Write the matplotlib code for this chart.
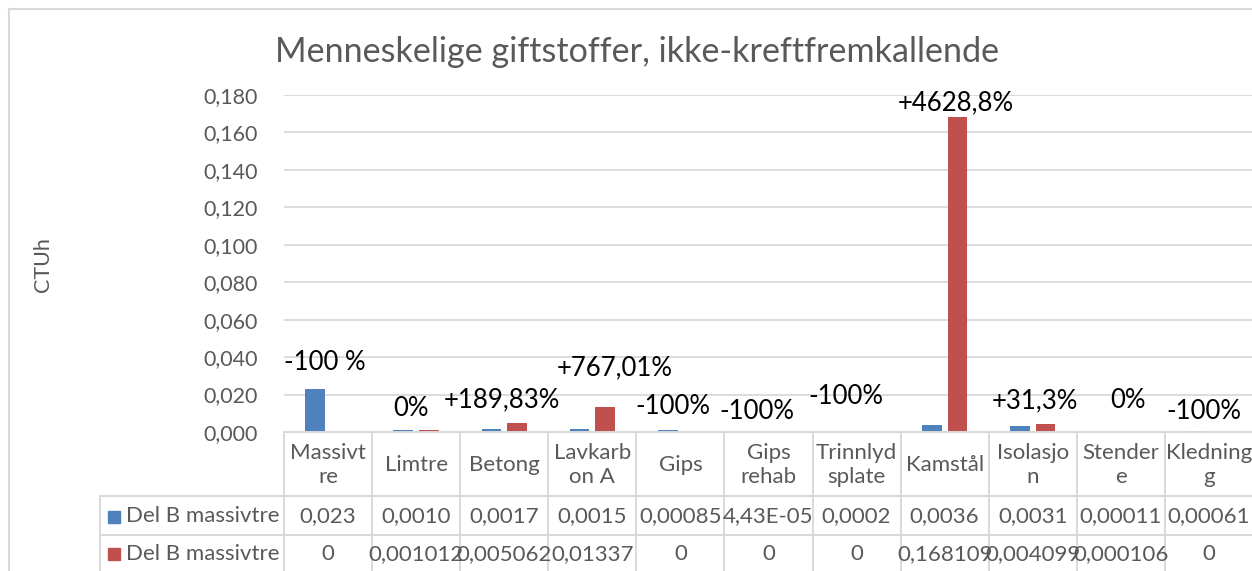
import matplotlib
matplotlib.use("Agg")
import matplotlib.pyplot as plt
import matplotlib.transforms as mtransforms
from matplotlib.lines import Line2D
from matplotlib.patches import Rectangle

# ---------------- data ----------------
title = "Menneskelige giftstoffer, ikke-kreftfremkallende"
y_label = "CTUh"
categories = ["Massivt\nre", "Limtre", "Betong", "Lavkarb\non A", "Gips", "Gips\nrehab",
              "Trinnlyd\nsplate", "Kamstål", "Isolasjo\nn", "Stender\ne", "Kledning\ng"]
series_names = ["Del B massivtre", "Del B massivtre"]
series_a = [0.023, 0.0010, 0.0017, 0.0015, 0.00085, 4.43e-05, 0.0002, 0.0036, 0.0031, 0.00011, 0.00061]
series_b = [0, 0.001012, 0.005062, 0.01337, 0, 0, 0, 0.168109, 0.004099, 0.000106, 0]
series_a_text = ["0,023", "0,0010", "0,0017", "0,0015", "0,00085", "4,43E-05", "0,0002",
                 "0,0036", "0,0031", "0,00011", "0,00061"]
series_b_text = ["0", "0,001012", "0,005062", "0,01337", "0", "0", "0",
                 "0,168109", "0,004099", "0,000106", "0"]
change_labels = ["-100 %", "0%", "+189,83%", "+767,01%", "-100%", "-100%", "-100%",
                 "+4628,8%", "+31,3%", "0%", "-100%"]
y_ticks = [0.0, 0.02, 0.04, 0.06, 0.08, 0.10, 0.12, 0.14, 0.16, 0.18]

# ---------------- layout / style ----------------
W, H = 1252, 571
FONT = "Lato"
GRAY_TXT = "#595959"
GRID = "#d9d9d9"
BLUE = "#4f81bd"
RED = "#c0504d"
# free-floating label placement (category-offset, height) chosen by eye
label_dx = [-0.04, -0.055, -0.03, 0.26, -0.09, -0.13, -0.12, 0.13, 0.03, 0.08, -0.06]
label_y = [0.0369, 0.0128, 0.0171, 0.0342, 0.0134, 0.0112, 0.0192, 0.1757, 0.0166, 0.0166, 0.0107]

plt.rcParams["font.family"] = [FONT, "DejaVu Sans"]

fig = plt.figure(figsize=(W / 100, H / 100), dpi=100)
fig.patch.set_facecolor("white")

def fx(px):
    return px / W

def fy(py):
    return 1 - py / H

ax_left, ax_right, ax_top, ax_bottom = 284, 1253, 95, 432
ax = fig.add_axes([fx(ax_left), fy(ax_bottom), fx(ax_right - ax_left), (ax_bottom - ax_top) / H])
n = len(categories)
xs = list(range(n))
bw = 0.225
off = 0.145
ax.bar([x - off for x in xs], series_a, width=bw, color=BLUE, zorder=3)
ax.bar([x + off for x in xs], series_b, width=bw, color=RED, zorder=3)
ax.set_xlim(-0.5, n - 0.5)
ax.set_ylim(0, 0.18)
ax.set_yticks(y_ticks)
ax.set_yticklabels([f"{t:.3f}".replace(".", ",") for t in y_ticks], fontsize=15.5, color=GRAY_TXT)
ax.tick_params(axis="y", length=0, pad=19)
ax.set_xticks([])
for s in ax.spines.values():
    s.set_visible(False)
ax.yaxis.grid(True, color=GRID, linewidth=1.3, zorder=0)
ax.set_axisbelow(True)

for i, lab in enumerate(change_labels):
    ax.text(i + label_dx[i], label_y[i], lab, ha="center", va="center",
            fontsize=18.5, color="black", zorder=5, clip_on=False)

# title and y label
fig.text(fx(637), fy(52), title, ha="center", va="center", fontsize=24.6, color=GRAY_TXT)
fig.text(fx(43), fy(265), y_label, ha="center", va="center", rotation=90, fontsize=15.5, color=GRAY_TXT)

# outer chart border
fig.add_artist(Line2D([fx(9), fx(9)], [fy(9), 0], transform=fig.transFigure, color=GRID, lw=1.5))
fig.add_artist(Line2D([fx(9), 1], [fy(9), fy(9)], transform=fig.transFigure, color=GRID, lw=1.5))

# data table
bt = mtransforms.blended_transform_factory(ax.transData, fig.transFigure)
row_top, row1, row2, row_end = 432, 496, 535, 575
tbl_left = 100
lw = 1.4
# horizontal lines
fig.add_artist(Line2D([fx(ax_left), 1], [fy(row_top)] * 2, transform=fig.transFigure, color=GRID, lw=lw))
for r in (row1, row2):
    fig.add_artist(Line2D([fx(tbl_left), 1], [fy(r)] * 2, transform=fig.transFigure, color=GRID, lw=lw))
# vertical lines
fig.add_artist(Line2D([fx(tbl_left)] * 2, [fy(row1), fy(row_end)], transform=fig.transFigure, color=GRID, lw=lw))
for k in range(n + 1):
    fig.add_artist(Line2D([k - 0.5] * 2, [fy(row_top), fy(row_end)], transform=bt, color=GRID, lw=lw))

cell_fs = 16
for i in range(n):
    fig.text(i, fy((row_top + row1) / 2 + 1), categories[i], transform=bt, ha="center", va="center",
             fontsize=cell_fs, color=GRAY_TXT, linespacing=1.3)
    fig.text(i, fy((row1 + row2) / 2 + 1), series_a_text[i], transform=bt, ha="center", va="center",
             fontsize=cell_fs, color=GRAY_TXT)
    fig.text(i, fy((row2 + 571) / 2 + 1), series_b_text[i], transform=bt, ha="center", va="center",
             fontsize=cell_fs, color=GRAY_TXT)

for r, (name, col) in enumerate(zip(series_names, [BLUE, RED])):
    cy = (row1 + row2) / 2 + 1 if r == 0 else (row2 + 571) / 2 + 1
    fig.add_artist(Rectangle((fx(108), fy(cy + 6)), 12 / W, 12 / H, transform=fig.transFigure,
                             color=col))
    fig.text(fx(126), fy(cy), name, ha="left", va="center", fontsize=cell_fs, color=GRAY_TXT)

fig.savefig("out.png", dpi=100)
